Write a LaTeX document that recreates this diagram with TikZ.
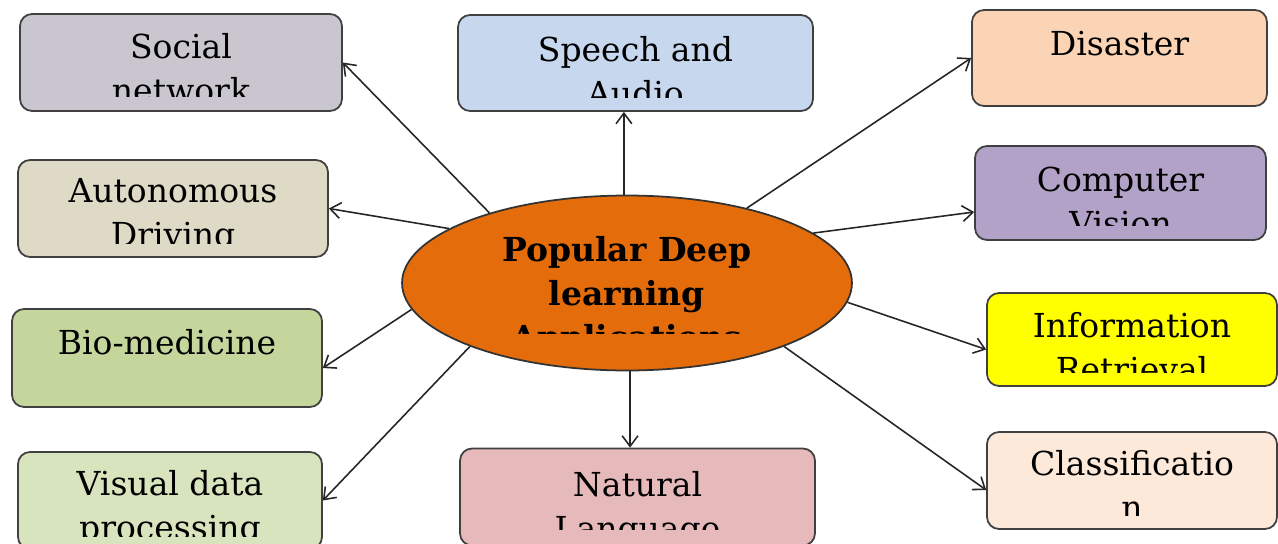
\documentclass[tikz,border=0pt]{standalone}
\usepackage{fontspec}
\setmainfont{DejaVu Serif}
\usetikzlibrary{shapes.geometric,arrows.meta}
\definecolor{socialgray}{RGB}{201,198,208}
\definecolor{speechblue}{RGB}{198,215,238}
\definecolor{disasterpeach}{RGB}{251,212,181}
\definecolor{autotan}{RGB}{222,218,198}
\definecolor{visionpurple}{RGB}{178,162,199}
\definecolor{biogreen}{RGB}{196,214,156}
\definecolor{infoyellow}{RGB}{255,255,0}
\definecolor{visualgreen}{RGB}{216,228,190}
\definecolor{naturalpink}{RGB}{230,185,186}
\definecolor{classifpeach}{RGB}{253,233,218}
\definecolor{dlorange}{RGB}{228,108,10}
\tikzset{
    app/.style={rectangle, rounded corners=0.24cm, draw=black!75, line width=1pt, fill=#1, inner sep=0pt},
    cuttext/.style n args={3}{path picture={
        \clip ([yshift=1cm]path picture bounding box.north west) rectangle ([yshift=-#2]path picture bounding box.north east);
        \node [rectangle, minimum width=0pt, minimum height=0pt, draw=none, fill=none, anchor=north, align=center, inner sep=0pt]
          at ([yshift=-#1]path picture bounding box.north) {#3};
    }},
    link/.style={-{Straight Barb[length=6pt,width=9pt]}, line width=0.9pt, black!85}
}

\begin{document}
\begin{tikzpicture}
  [
    x                 = 0.02cm,
    y                 = -0.02cm,
    every node/.style = {font=\fontsize{18.8}{25}\selectfont},
  ]
  \useasboundingbox (0,0) rectangle (1278,544);

  \node [ellipse, draw=black!80, line width=1pt, fill=dlorange, minimum width=9cm, minimum height=3.5cm, inner sep=0pt,
         cuttext={0.8cm}{2.76cm}{\textbf{Popular Deep}\\\textbf{learning}\\\textbf{Applications}}] (dl) at (627,283) {};

  \node [app=socialgray, minimum width=6.44cm, minimum height=1.94cm, cuttext={0.38cm}{1.66cm}{Social\\network}] (soc) at (181,62.5) {};
  \node [app=speechblue, minimum width=7.1cm, minimum height=1.92cm, cuttext={0.42cm}{1.66cm}{Speech and\\Audio}] (speech) at (635.5,63) {};
  \node [app=disasterpeach, minimum width=5.9cm, minimum height=1.92cm, cuttext={0.4cm}{1.64cm}{Disaster}] (disaster) at (1119.5,58) {};
  \node [app=autotan, minimum width=6.2cm, minimum height=1.94cm, cuttext={0.36cm}{1.68cm}{Autonomous\\Driving}] (auto) at (173,208.5) {};
  \node [app=visionpurple, minimum width=5.82cm, minimum height=1.88cm, cuttext={0.4cm}{1.6cm}{Computer\\Vision}] (vision) at (1120.5,193) {};
  \node [app=biogreen, minimum width=6.2cm, minimum height=1.96cm, cuttext={0.4cm}{1.64cm}{Bio-medicine}] (bio) at (167,358) {};
  \node [app=infoyellow, minimum width=5.8cm, minimum height=1.86cm, cuttext={0.38cm}{1.6cm}{Information\\Retrieval}] (info) at (1132,339.5) {};
  \node [app=visualgreen, minimum width=6.08cm, minimum height=1.94cm, cuttext={0.36cm}{1.7cm}{Visual data\\processing}] (visual) at (170,500.5) {};
  \node [app=naturalpink, minimum width=7.1cm, minimum height=1.94cm, cuttext={0.44cm}{1.62cm}{Natural\\Language}] (natural) at (637.5,497) {};
  \node [app=classifpeach, minimum width=5.8cm, minimum height=1.94cm, cuttext={0.36cm}{1.68cm}{Classificatio\\n}] (classif) at (1132,480.5) {};

  \draw [link] (dl.153) -- (soc.east);
  \draw [link] (dl.92) -- (dl.92 |- speech.south);
  \draw [link] (dl.32) -- (disaster.west);
  \draw [link] (dl.163) -- (auto.east);
  \draw [link] (dl.15) -- ([yshift=-0.38cm]vision.west);
  \draw [link] (dl.187) -- ([yshift=-0.2cm]bio.east);
  \draw [link] (dl.355) -- ([yshift=-0.2cm]info.west);
  \draw [link] (dl.202) -- (visual.east);
  \draw [link] (dl.338) -- ([yshift=-0.19cm]classif.west);
  \draw [link] (dl.272) -- (dl.272 |- natural.north);
\end{tikzpicture}
\end{document}
